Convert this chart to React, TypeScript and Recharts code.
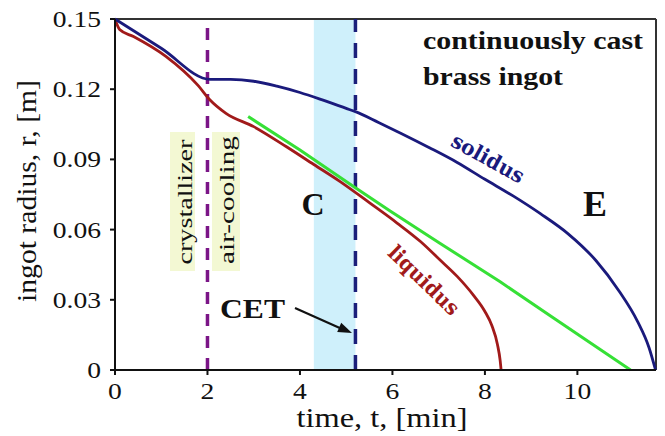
import { LineChart, Line, XAxis, YAxis, ReferenceLine, ReferenceArea } from 'recharts';

// solidus front (blue)
const solidusT = [0, 1, 2.06, 2.5, 3.0, 3.5, 4.0, 4.5, 5.0, 5.2, 5.7, 6.2, 6.8, 7.4, 8.0, 8.6, 9.2, 9.8, 10.4, 10.9, 11.3, 11.55, 11.69];
const solidusR = [0.15, 0.1375, 0.1242, 0.1242, 0.1234, 0.1213, 0.1186, 0.1153, 0.1118, 0.1104, 0.1058, 0.101, 0.095, 0.0887, 0.0815, 0.0745, 0.0668, 0.0582, 0.0468, 0.0338, 0.0208, 0.0095, 0];

// liquidus front (red)
const liquidusT = [0, 0.1, 0.4, 1.1, 1.8, 2.05, 2.4, 3.0, 3.7, 4.3, 4.87, 5.5, 6.1, 6.6, 7.03, 7.4, 7.75, 8.0, 8.15, 8.27, 8.33, 8.35];
const liquidusR = [0.15, 0.1455, 0.1425, 0.134, 0.1215, 0.1155, 0.1097, 0.104, 0.0955, 0.0878, 0.0805, 0.0715, 0.0628, 0.055, 0.047, 0.04, 0.032, 0.025, 0.019, 0.011, 0.004, 0];

// green front line
const frontT = [2.88, 4.0, 5.15, 5.95, 7.0, 8.33, 9.5, 11.15];
const frontR = [0.1083, 0.094, 0.0785, 0.068, 0.0545, 0.0377, 0.022, 0];

const xTicks = [0, 2, 4, 6, 8, 10];
const yTicks = [0, 0.03, 0.06, 0.09, 0.12, 0.15];
const xMax = 11.7;
const crystallizerEnd = 2;
const cetBand = [4.3, 5.2];

const toRows = (ts: number[], rs: number[]) => ts.map((t, i) => ({ t, r: rs[i] }));

const serif = '"Liberation Serif", "Times New Roman", serif';
const slab = '"DejaVu Serif", serif';

const XTick = ({ x, y, payload }: any) => (
  <g transform={`translate(${x},${y})`}>
    <text x={0} y={20} textAnchor="middle" fontFamily={serif} fontSize={23} fill="#111" transform="scale(1.2,1)">
      {payload.value}
    </text>
  </g>
);

const YTick = ({ x, y, payload }: any) => (
  <g transform={`translate(${x},${y})`}>
    <text x={0} y={8} textAnchor="end" fontFamily={serif} fontSize={23} fill="#111" transform="scale(1.2,1)">
      {payload.value === 0 ? '0' : payload.value.toFixed(2)}
    </text>
  </g>
);

export default function App() {
  return (
    <div style={{ position: 'absolute', left: 0, top: 0, width: 665, height: 436, background: '#fff' }}>
      <LineChart width={665} height={436} margin={{ top: 19, right: 9, left: 0, bottom: 0 }}>
        <ReferenceArea x1={cetBand[0]} x2={cetBand[1]} fill="#cff0fb" fillOpacity={1} stroke="none" />
        <XAxis
          dataKey="t"
          type="number"
          domain={[0, xMax]}
          ticks={xTicks}
          height={66}
          allowDuplicatedCategory={false}
          axisLine={{ stroke: '#111', strokeWidth: 2 }}
          tickLine={{ stroke: '#111', strokeWidth: 2 }}
          tickSize={5}
          tickMargin={4}
          tick={<XTick />}
        />
        <YAxis
          type="number"
          domain={[0, 0.15]}
          ticks={yTicks}
          width={115}
          axisLine={{ stroke: '#111', strokeWidth: 2 }}
          tickLine={{ stroke: '#111', strokeWidth: 2 }}
          tickSize={5}
          tickMargin={9}
          tick={<YTick />}
        />
        <ReferenceLine y={0.15} stroke="#333" strokeWidth={2} />
        <ReferenceLine x={xMax} stroke="#333" strokeWidth={2} />
        <ReferenceLine x={crystallizerEnd} stroke="#7b1587" strokeWidth={3.5} strokeDasharray="12 10" />
        <ReferenceLine x={cetBand[1]} stroke="#1b1f7a" strokeWidth={3.5} strokeDasharray="15 11" />
        <Line data={toRows(frontT, frontR)} dataKey="r" type="linear" stroke="#36e036" strokeWidth={3} dot={false} isAnimationActive={false} />
        <Line data={toRows(liquidusT, liquidusR)} dataKey="r" type="monotone" stroke="#a11a1a" strokeWidth={2.8} dot={false} isAnimationActive={false} />
        <Line data={toRows(solidusT, solidusR)} dataKey="r" type="monotone" stroke="#1a1a7c" strokeWidth={2.8} dot={false} isAnimationActive={false} />
      </LineChart>
      <svg width={665} height={436} style={{ position: 'absolute', left: 0, top: 0, pointerEvents: 'none' }}>
        <text x={423} y={49} fontFamily={serif} fontWeight="bold" fontSize={26} fill="#111" textLength={220} lengthAdjust="spacingAndGlyphs">
          continuously cast
        </text>
        <text x={423} y={85} fontFamily={serif} fontWeight="bold" fontSize={26} fill="#111" textLength={140} lengthAdjust="spacingAndGlyphs">
          brass ingot
        </text>
        <rect x={170} y={132} width={25} height={139} fill="#f3f8d3" />
        <rect x={212} y={132} width={28} height={139} fill="#f3f8d3" />
        <text transform="translate(192,202) rotate(-90)" textAnchor="middle" fontFamily={serif} fontSize={22} fill="#111" textLength={125} lengthAdjust="spacingAndGlyphs">
          crystallizer
        </text>
        <text transform="translate(234,200) rotate(-90)" textAnchor="middle" fontFamily={serif} fontSize={22} fill="#111" textLength={128} lengthAdjust="spacingAndGlyphs">
          air-cooling
        </text>
        <text x={313} y={215} textAnchor="middle" fontFamily={serif} fontWeight="bold" fontSize={32} fill="#111">C</text>
        <text x={595} y={216} textAnchor="middle" fontFamily={serif} fontWeight="bold" fontSize={36} fill="#111">E</text>
        <text x={220} y={318} fontFamily={serif} fontWeight="bold" fontSize={28} fill="#111" textLength={65} lengthAdjust="spacingAndGlyphs">CET</text>
        <line x1={295} y1={308} x2={342} y2={329} stroke="#111" strokeWidth={2.2} />
        <polygon points="352,333 341.2,322.8 337.2,332" fill="#111" />
        <text transform="translate(488,158) rotate(29)" textAnchor="middle" dominantBaseline="central" fontFamily={slab} fontWeight="bold" fontSize={21} fill="#1a1a7c" textLength={80} lengthAdjust="spacingAndGlyphs">
          solidus
        </text>
        <text transform="translate(424,280) rotate(44)" textAnchor="middle" dominantBaseline="central" fontFamily={slab} fontWeight="bold" fontSize={21} fill="#a11a1a" textLength={90} lengthAdjust="spacingAndGlyphs">
          liquidus
        </text>
        <text x={382} y={427} textAnchor="middle" fontFamily={serif} fontSize={27} fill="#111" textLength={171} lengthAdjust="spacingAndGlyphs">
          time, t, [min]
        </text>
        <text transform="translate(36,191) rotate(-90)" textAnchor="middle" fontFamily={serif} fontSize={28} fill="#111" textLength={222} lengthAdjust="spacingAndGlyphs">
          ingot radius, r, [m]
        </text>
      </svg>
    </div>
  );
}
